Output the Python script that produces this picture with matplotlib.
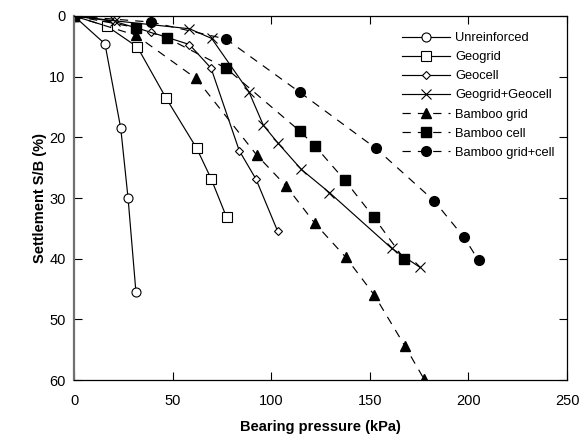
import matplotlib
matplotlib.use("Agg")
import matplotlib.pyplot as plt

plt.rcParams['font.family'] = ['Liberation Sans', 'DejaVu Sans']

unr_x = [0, 15.7, 23.7, 27.4, 31.4]
unr_y = [0, 4.6, 18.5, 30.0, 45.5]

gg_x = [0, 16.8, 32.1, 46.8, 62.2, 69.5, 77.4]
gg_y = [0, 1.7, 5.1, 13.6, 21.8, 26.8, 33.2]

gc_x = [0, 20.5, 39.2, 58.5, 69.5, 83.8, 92.3, 103.3]
gc_y = [0, 0.9, 2.7, 4.7, 8.6, 22.2, 26.9, 35.5]

ggc_x = [0, 20.8, 58.5, 69.8, 88.7, 96.0, 103.3, 115.3, 129.5, 161.1, 175.3]
ggc_y = [0, 0.8, 2.1, 3.7, 12.5, 18.0, 20.9, 25.3, 29.1, 38.3, 41.4]

bg_x = [0, 31.5, 61.9, 92.6, 107.5, 122.2, 137.9, 152.3, 167.8, 177.6]
bg_y = [0, 3.2, 10.3, 22.9, 28.0, 34.2, 39.8, 46.0, 54.4, 59.9]

bc_x = [0, 31.5, 47.0, 77.1, 114.6, 122.4, 137.4, 152.1, 167.5]
bc_y = [0, 1.9, 3.6, 8.6, 19.0, 21.5, 27.1, 33.2, 40.1]

bgc_x = [0, 39.0, 77.1, 114.6, 153.0, 182.7, 197.8, 205.2]
bgc_y = [0, 1.0, 3.8, 12.6, 21.8, 30.5, 36.5, 40.3]

labels = ['Unreinforced', 'Geogrid', 'Geocell', 'Geogrid+Geocell',
          'Bamboo grid', 'Bamboo cell', 'Bamboo grid+cell']

fig = plt.figure(figsize=(5.8, 4.44), dpi=100)
ax = fig.add_axes([0.1276, 0.1441, 0.85, 0.8199])

lw = 0.85
open_kw = dict(color='black', lw=lw, markerfacecolor='white', markeredgecolor='black',
               markeredgewidth=0.8)
ax.plot(unr_x, unr_y, marker='o', ms=6.5, label=labels[0], **open_kw)
ax.plot(gg_x, gg_y, marker='s', ms=6.5, label=labels[1], **open_kw)
ax.plot(gc_x, gc_y, marker='D', ms=4.5, label=labels[2], **open_kw)
ax.plot(ggc_x, ggc_y, marker='x', ms=7.5, label=labels[3], color='black', lw=lw,
        markeredgewidth=0.8)

dash_kw = dict(color='black', lw=lw, dashes=(7, 6))
ax.plot(bg_x, bg_y, marker='^', ms=7, label=labels[4], **dash_kw)
ax.plot(bc_x, bc_y, marker='s', ms=7, label=labels[5], **dash_kw)
ax.plot(bgc_x, bgc_y, marker='o', ms=7, label=labels[6], **dash_kw)

ax.set_xlim(0, 250)
ax.set_ylim(60, 0)
ax.set_xticks([0, 50, 100, 150, 200, 250])
ax.set_yticks([0, 10, 20, 30, 40, 50, 60])
ax.tick_params(direction='in', length=6, width=0.8, labelsize=10.5,
               top=True, right=True, pad=6)
ax.tick_params(axis='x', pad=10)
for s in ['top', 'right', 'bottom']:
    ax.spines[s].set_linewidth(0.9)
ax.spines['left'].set_linewidth(1.6)
ax.spines['left'].set_color('#707070')

ax.set_xlabel('Bearing pressure (kPa)', fontsize=10.5, fontweight='bold', labelpad=9)
ax.set_ylabel('Settlement S/B (%)', fontsize=10.5, fontweight='bold', labelpad=2)

leg = ax.legend(loc='upper left', bbox_to_anchor=(0.665, 0.956), frameon=False,
                fontsize=9.3, handlelength=3.7, labelspacing=0.55, handletextpad=0.45,
                borderaxespad=0, borderpad=0)

fig.savefig('out.png', dpi=100)
